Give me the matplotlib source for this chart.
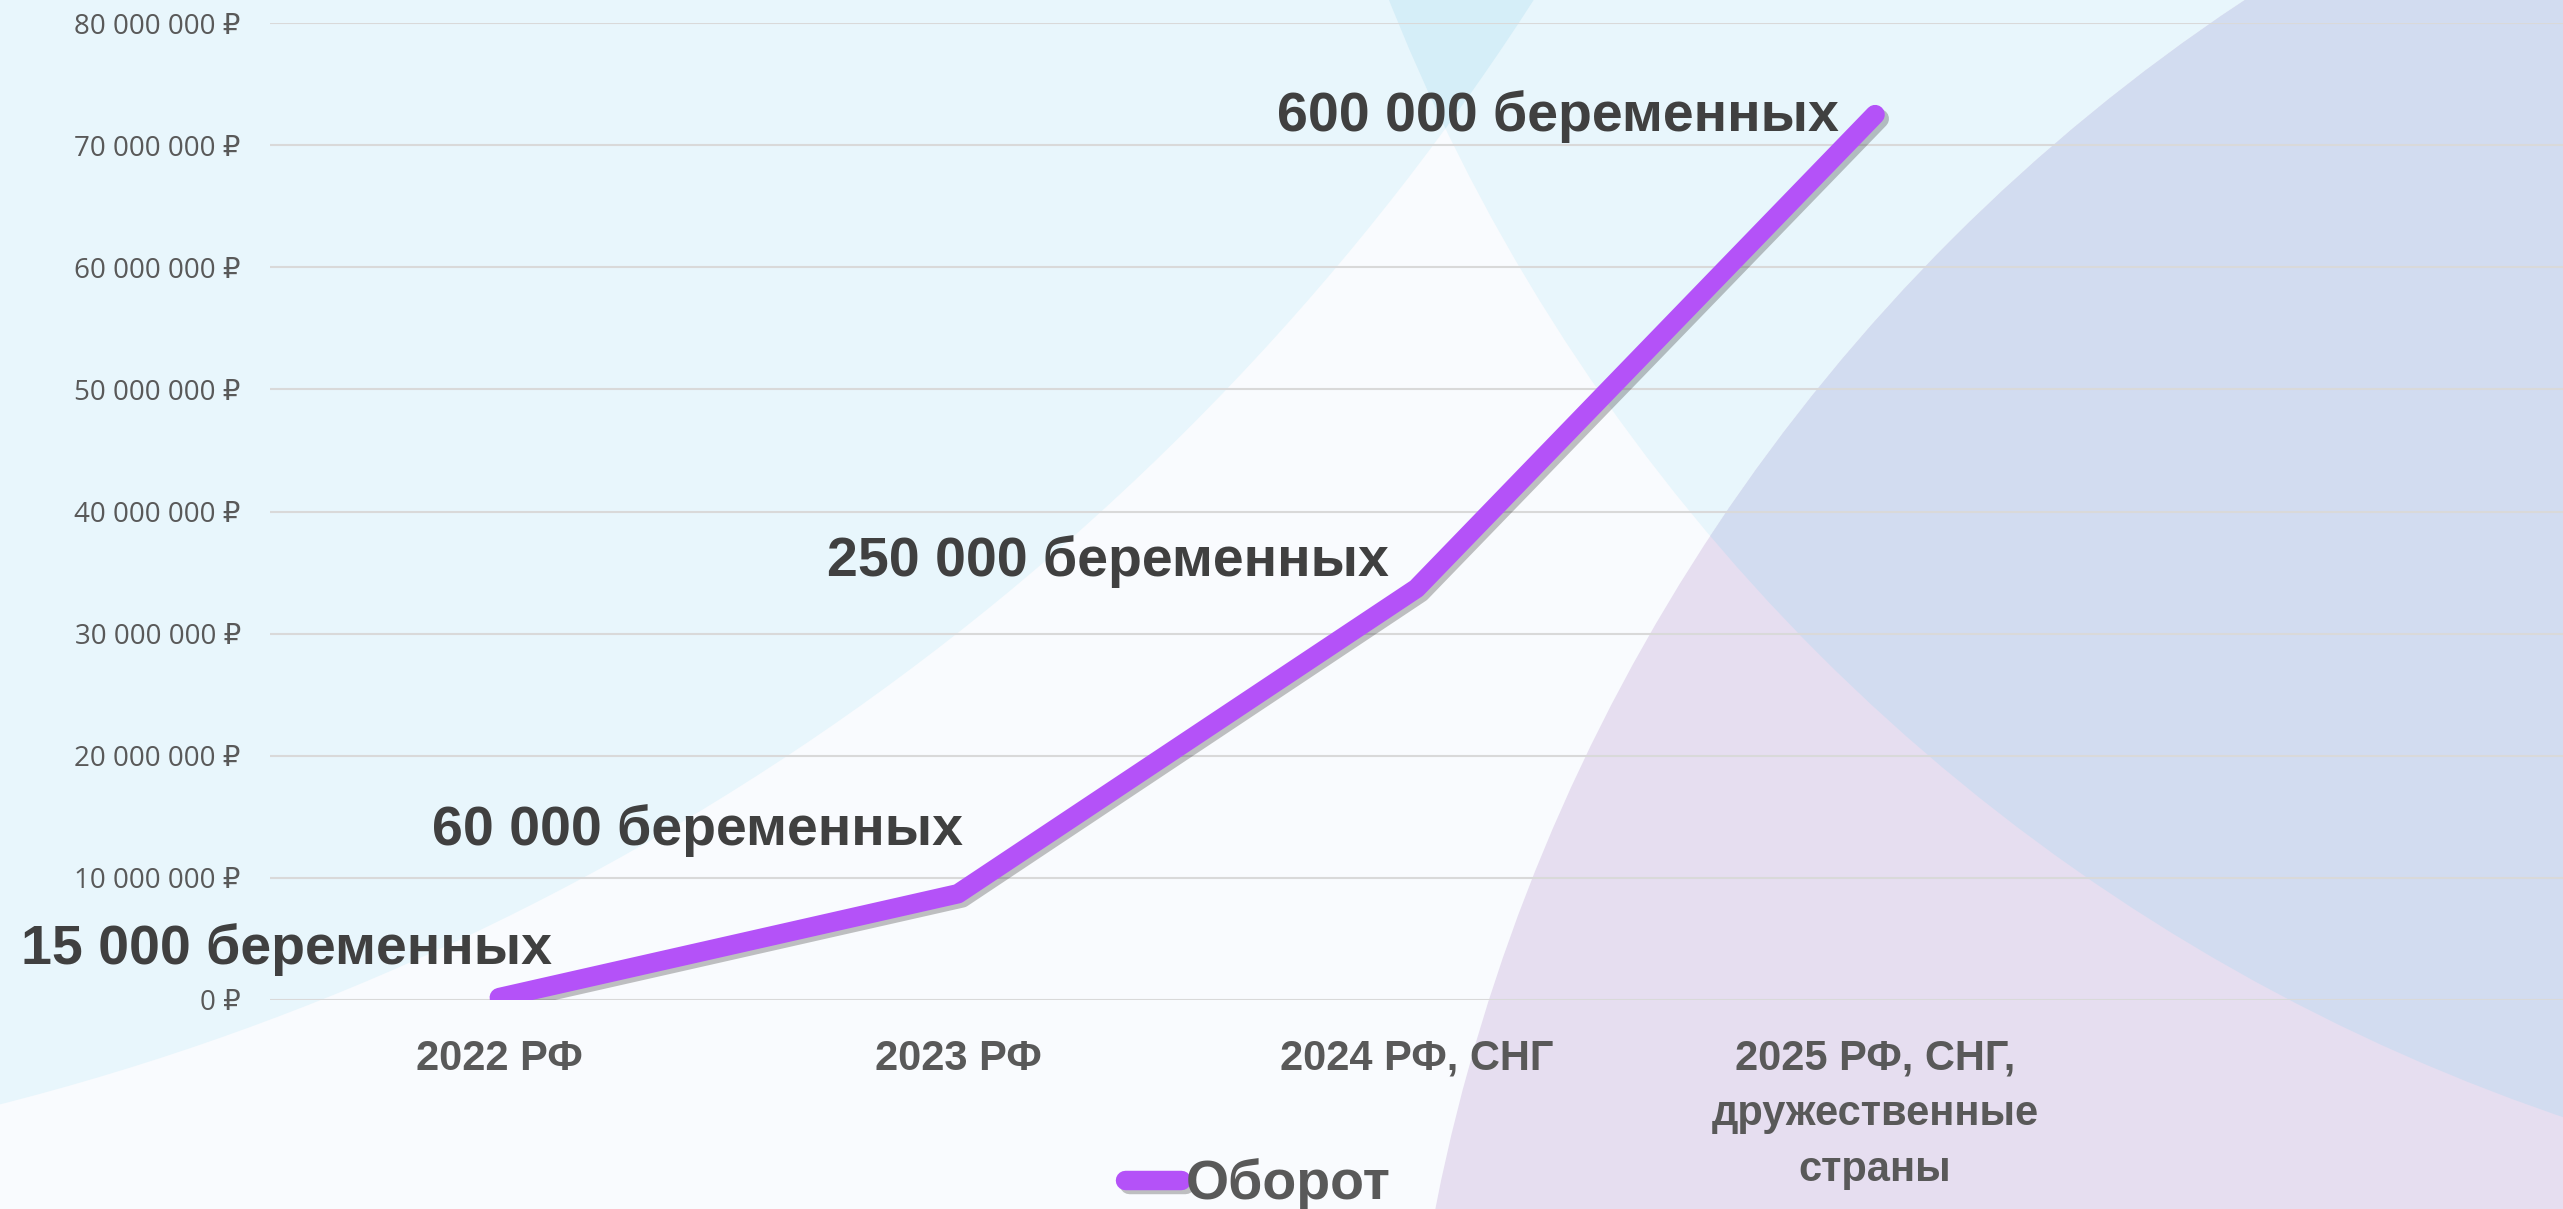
import matplotlib
matplotlib.use("Agg")
import matplotlib.pyplot as plt
import matplotlib.patheffects as pe
from matplotlib.patches import Circle

# chart data
categories = ["2022 РФ", "2023 РФ", "2024 РФ, СНГ", "2025 РФ, СНГ,\nдружественные\nстраны"]
turnover = [200_000, 8_700_000, 33_700_000, 72_500_000]
point_labels = ["15 000 беременных", "60 000 беременных", "250 000 беременных", "600 000 беременных"]
y_ticks = [0, 10_000_000, 20_000_000, 30_000_000, 40_000_000,
           50_000_000, 60_000_000, 70_000_000, 80_000_000]
series_name = "Оборот"

# layout (pixels of the 2563x1209 canvas)
W, H = 2563, 1209
label_offsets = [(38, 24), (4, 35), (-20, 9), (-26, -12)]  # points, from each point to label baseline/right

fig = plt.figure(figsize=(W / 100, H / 100), dpi=100)
fig.patch.set_facecolor("#F9FBFE")

# decorative background circles
bg = fig.add_axes([0, 0, 1, 1], zorder=0)
bg.set_xlim(0, W)
bg.set_ylim(H, 0)
bg.axis("off")

circ_a = Circle((-636, -1396), 2580, facecolor="#E8F6FC", lw=0)
circ_b = Circle((3185, -712), 1932, facecolor="#E8F6FC", lw=0)
bg.add_patch(circ_a)
bg.add_patch(circ_b)
ab = Circle((-636, -1396), 2580, facecolor="#D5EEF8", lw=0)
bg.add_patch(ab)
ab.set_clip_path(circ_b)
circ_c = Circle((3285, 1572), 1885, facecolor="#E6DEF0", lw=0)
bg.add_patch(circ_c)
bc = Circle((3285, 1572), 1885, facecolor="#D2DCF0", lw=0)
bg.add_patch(bc)
bc.set_clip_path(circ_b)

# main chart
ax = fig.add_axes([270 / W, 1 - 1000 / H, (W - 270) / W, (1000 - 23) / H], zorder=1)
ax.set_facecolor("none")

x = list(range(len(categories)))
ax.plot(x, turnover, color="#B452F8", lw=14, solid_capstyle="round",
        solid_joinstyle="round", label=series_name, zorder=3,
        path_effects=[pe.SimpleLineShadow(offset=(3, -3), shadow_color="#333333", alpha=0.3),
                      pe.Normal()])

for xi, yi, txt, off in zip(x, turnover, point_labels, label_offsets):
    ax.annotate(txt, (xi, yi), xytext=off, textcoords="offset points",
                ha="right", va="baseline", fontsize=40, fontweight="bold",
                color="#404040", family="Liberation Sans", zorder=4,
                annotation_clip=False)

ax.set_xlim(-0.5, 4.5)
ax.set_ylim(0, 80_000_000)
ax.set_yticks(y_ticks)
ax.set_yticklabels([f"{v:,}".replace(",", " ") + " ₽" for v in y_ticks],
                   fontsize=20, color="#595959", family=["Open Sans", "DejaVu Sans"])
ax.set_xticks(x)
ax.set_xticklabels(categories, fontsize=30, fontweight="bold", color="#595959",
                   family="Liberation Sans", linespacing=1.5)
ax.tick_params(axis="y", length=0, pad=21)
ax.tick_params(axis="x", length=0, pad=28)
ax.grid(axis="y", color="#D9D9D9", lw=1.5)
ax.set_axisbelow(True)
for s in ax.spines.values():
    s.set_visible(False)

leg = fig.legend(loc="center", bbox_to_anchor=(1258 / W, 1 - 1185 / H), frameon=False,
                 handlelength=1.0, handletextpad=0.1,
                 prop={"family": "Liberation Sans", "weight": "bold", "size": 40})
for t in leg.get_texts():
    t.set_color("#595959")

fig.savefig("out.png", dpi=100, facecolor=fig.get_facecolor())
